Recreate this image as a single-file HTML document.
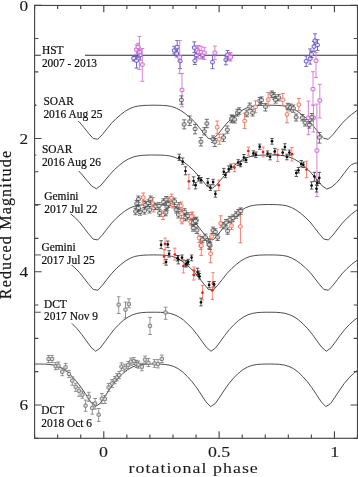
<!DOCTYPE html><html><head><meta charset="utf-8"><style>html,body{margin:0;padding:0;background:#fff;width:358px;height:477px;overflow:hidden}svg{display:block;will-change:transform}</style></head><body>
<svg width="358" height="477" viewBox="0 0 358 477">
<g fill="none" stroke="#3a3a3a" stroke-width="0.9">
<path d="M34.6,55.25 L357.5,55.25" stroke="#2e2e2e" stroke-width="1.1"/>
<path d="M34.60,105.25 L37.79,105.21 L42.41,105.26 L47.02,105.39 L51.63,105.72 L56.25,106.49 L60.86,108.10 L65.47,110.50 L70.08,113.69 L74.70,117.57 L79.31,121.93 L83.92,127.56 L88.54,133.27 L93.15,138.47 L97.76,139.24 L102.38,134.50 L106.99,128.77 L111.60,123.14 L116.22,118.50 L120.83,114.49 L125.44,111.09 L130.05,108.48 L134.67,106.73 L139.28,105.88 L143.89,105.45 L148.51,105.27 L153.12,105.21 L157.73,105.26 L162.34,105.39 L166.96,105.72 L171.57,106.49 L176.18,108.10 L180.80,110.50 L185.41,113.69 L190.02,117.57 L194.64,121.93 L199.25,127.56 L203.86,133.28 L208.47,138.47 L213.09,139.24 L217.70,134.50 L222.31,128.76 L226.93,123.13 L231.54,118.50 L236.15,114.49 L240.77,111.09 L245.38,108.48 L249.99,106.73 L254.61,105.88 L259.22,105.45 L263.83,105.27 L268.44,105.21 L273.06,105.26 L277.67,105.39 L282.28,105.72 L286.90,106.49 L291.51,108.11 L296.12,110.51 L300.74,113.69 L305.35,117.57 L309.96,121.94 L314.57,127.57 L319.19,133.28 L323.80,138.48 L328.41,139.24 L333.03,134.49 L337.64,128.76 L342.25,123.13 L346.87,118.49 L351.48,114.48 L356.09,111.09 L357.50,110.25"/>
<path d="M34.60,155.05 L36.28,155.03 L40.89,155.04 L45.51,155.10 L50.12,155.37 L54.73,156.01 L59.35,157.28 L63.96,159.30 L68.57,162.09 L73.18,165.75 L77.80,169.94 L82.41,175.04 L87.02,180.59 L91.64,185.95 L96.25,188.79 L100.86,185.34 L105.48,179.86 L110.09,174.33 L114.70,169.38 L119.31,165.28 L123.93,161.63 L128.54,158.95 L133.15,157.06 L137.77,155.91 L142.38,155.34 L146.99,155.09 L151.61,155.03 L156.22,155.04 L160.83,155.10 L165.44,155.37 L170.06,156.01 L174.67,157.28 L179.28,159.30 L183.90,162.09 L188.51,165.75 L193.12,169.94 L197.74,175.04 L202.35,180.59 L206.96,185.95 L211.57,188.79 L216.19,185.33 L220.80,179.86 L225.41,174.32 L230.03,169.38 L234.64,165.27 L239.25,161.63 L243.87,158.95 L248.48,157.06 L253.09,155.91 L257.70,155.34 L262.32,155.09 L266.93,155.03 L271.54,155.04 L276.16,155.10 L280.77,155.37 L285.38,156.01 L290.00,157.28 L294.61,159.30 L299.22,162.10 L303.83,165.76 L308.45,169.94 L313.06,175.05 L317.67,180.60 L322.29,185.96 L326.90,189.10 L331.40,187.20 L335.90,183.50 L340.30,178.50 L344.80,172.40 L348.20,167.90 L351.50,164.60 L354.90,163.20 L357.70,162.90"/>
<path d="M34.60,204.55 L37.79,204.51 L42.41,204.56 L47.02,204.70 L51.63,205.04 L56.25,205.84 L60.86,207.52 L65.47,210.02 L70.08,213.33 L74.70,217.37 L79.31,221.90 L83.92,227.76 L88.54,233.71 L93.15,239.11 L97.76,239.92 L102.38,234.98 L106.99,229.02 L111.60,223.16 L116.22,218.34 L120.83,214.16 L125.44,210.63 L130.05,207.91 L134.67,206.10 L139.28,205.21 L143.89,204.76 L148.51,204.58 L153.12,204.51 L157.73,204.56 L162.34,204.70 L166.96,205.04 L171.57,205.84 L176.18,207.52 L180.80,210.02 L185.41,213.33 L190.02,217.37 L194.64,221.91 L199.25,227.77 L203.86,233.71 L208.47,239.12 L213.09,239.91 L217.70,234.98 L222.31,229.02 L226.93,223.16 L231.54,218.33 L236.15,214.16 L240.77,210.63 L245.38,207.91 L249.99,206.09 L254.61,205.21 L259.22,204.76 L263.83,204.58 L268.44,204.51 L273.06,204.56 L277.67,204.70 L282.28,205.04 L286.90,205.84 L291.51,207.52 L296.12,210.02 L300.74,213.34 L305.35,217.37 L309.96,221.91 L314.57,227.77 L319.19,233.72 L323.80,239.12 L328.41,239.91 L333.03,234.98 L337.64,229.01 L342.25,223.15 L346.87,218.33 L351.48,214.16 L356.09,210.62 L357.50,209.75"/>
<path d="M34.60,254.95 L37.89,254.91 L42.51,254.96 L47.12,255.10 L51.73,255.45 L56.35,256.25 L60.96,257.95 L65.57,260.46 L70.18,263.79 L74.80,267.83 L79.41,272.38 L84.02,278.22 L88.64,284.15 L93.25,289.53 L97.86,290.18 L102.48,285.17 L107.09,279.22 L111.70,273.38 L116.31,268.60 L120.93,264.45 L125.54,260.95 L130.15,258.26 L134.77,256.45 L139.38,255.59 L143.99,255.15 L148.61,254.97 L153.22,254.91 L157.83,254.96 L162.44,255.10 L167.06,255.45 L171.67,256.25 L176.28,257.95 L180.90,260.46 L185.51,263.79 L190.12,267.83 L194.74,272.39 L199.35,278.23 L203.96,284.16 L208.57,289.53 L213.19,290.18 L217.80,285.17 L222.41,279.22 L227.03,273.38 L231.64,268.60 L236.25,264.45 L240.87,260.95 L245.48,258.26 L250.09,256.45 L254.70,255.59 L259.32,255.15 L263.93,254.97 L268.54,254.91 L273.16,254.96 L277.77,255.10 L282.38,255.45 L287.00,256.25 L291.61,257.95 L296.22,260.47 L300.83,263.80 L305.45,267.84 L310.06,272.39 L314.67,278.23 L319.29,284.16 L323.90,289.53 L328.51,290.18 L333.13,285.16 L337.74,279.21 L342.35,273.37 L346.96,268.59 L351.58,264.45 L356.19,260.94 L357.50,260.14"/>
<path d="M34.60,312.26 L35.68,312.24 L40.29,312.23 L44.91,312.31 L49.52,312.59 L54.13,313.25 L58.75,314.58 L63.36,316.77 L67.97,319.87 L72.58,324.08 L77.20,328.83 L81.81,334.55 L86.42,340.95 L91.04,347.28 L95.65,351.28 L100.26,347.99 L104.88,341.79 L109.49,335.38 L114.10,329.47 L118.72,324.63 L123.33,320.40 L127.94,317.17 L132.55,314.83 L137.17,313.37 L141.78,312.63 L146.39,312.32 L151.01,312.24 L155.62,312.23 L160.23,312.31 L164.84,312.59 L169.46,313.25 L174.07,314.58 L178.68,316.77 L183.30,319.87 L187.91,324.08 L192.52,328.84 L197.14,334.55 L201.75,340.95 L206.36,347.28 L210.97,351.28 L215.59,347.99 L220.20,341.79 L224.81,335.37 L229.43,329.47 L234.04,324.63 L238.65,320.40 L243.27,317.17 L247.88,314.83 L252.49,313.37 L257.11,312.63 L261.72,312.32 L266.33,312.24 L270.94,312.23 L275.56,312.31 L280.17,312.59 L284.78,313.26 L289.40,314.58 L294.01,316.77 L298.62,319.87 L303.24,324.09 L307.85,328.84 L312.46,334.56 L317.07,340.96 L321.69,347.28 L326.30,351.28 L330.91,347.98 L335.53,341.78 L340.14,335.37 L344.75,329.46 L349.37,324.63 L353.98,320.40 L357.50,317.90"/>
<path d="M34.60,364.06 L35.28,364.05 L39.89,364.03 L44.51,364.11 L49.12,364.39 L53.73,365.07 L58.35,366.41 L62.96,368.71 L67.57,372.10 L72.18,376.60 L76.80,381.74 L81.41,387.85 L86.02,394.85 L90.64,401.87 L95.25,406.59 L99.86,403.69 L104.48,397.00 L109.09,389.97 L113.70,383.37 L118.31,378.01 L122.93,373.38 L127.54,369.74 L132.15,367.07 L136.77,365.36 L141.38,364.50 L145.99,364.15 L150.61,364.05 L155.22,364.03 L159.83,364.11 L164.44,364.39 L169.06,365.07 L173.67,366.42 L178.28,368.71 L182.90,372.10 L187.51,376.60 L192.12,381.74 L196.74,387.86 L201.35,394.85 L205.96,401.87 L210.57,406.59 L215.19,403.68 L219.80,396.99 L224.41,389.96 L229.03,383.36 L233.64,378.00 L238.25,373.37 L242.87,369.73 L247.48,367.07 L252.09,365.36 L256.70,364.50 L261.32,364.15 L265.93,364.05 L270.54,364.03 L275.16,364.11 L279.77,364.39 L284.38,365.07 L289.00,366.42 L293.61,368.71 L298.22,372.10 L302.83,376.61 L307.45,381.74 L312.06,387.86 L316.67,394.86 L321.29,401.88 L325.90,406.59 L330.51,403.68 L335.13,396.99 L339.74,389.96 L344.35,383.36 L348.96,378.00 L353.58,373.37 L357.50,370.24"/>
</g>
<path d="M133.7,56.0V61.1M131.7,56.0h4.0M131.7,61.1h4.0" stroke="#6a58c2" stroke-width="0.9" fill="none"/><rect x="131.8" y="56.6" width="3.8" height="3.3" rx="1.0" fill="#e8e4f6" stroke="#5c48ba" stroke-width="0.9"/>
<path d="M136.5,56.5V68.1M134.5,56.5h4.0M134.5,68.1h4.0" stroke="#6a58c2" stroke-width="0.9" fill="none"/><rect x="134.6" y="59.0" width="3.8" height="3.3" rx="1.0" fill="#e8e4f6" stroke="#5c48ba" stroke-width="0.9"/>
<path d="M138.8,47.3V57.7M136.8,47.3h4.0M136.8,57.7h4.0" stroke="#6a58c2" stroke-width="0.9" fill="none"/><rect x="136.9" y="51.5" width="3.8" height="3.3" rx="1.0" fill="#e8e4f6" stroke="#5c48ba" stroke-width="0.9"/>
<path d="M140.2,50.0V60.0M138.2,50.0h4.0M138.2,60.0h4.0" stroke="#6a58c2" stroke-width="0.9" fill="none"/><rect x="138.3" y="53.4" width="3.8" height="3.3" rx="1.0" fill="#e8e4f6" stroke="#5c48ba" stroke-width="0.9"/>
<path d="M136.5,45.0V54.0M134.5,45.0h4.0M134.5,54.0h4.0" stroke="#d076d4" stroke-width="0.9" fill="none"/><rect x="134.6" y="48.0" width="3.8" height="3.3" rx="0.5" fill="#f6e4f6" stroke="#c962ce" stroke-width="0.9"/>
<path d="M139.4,36.3V69.5M137.4,36.3h4.0M137.4,69.5h4.0" stroke="#d076d4" stroke-width="0.9" fill="none"/><rect x="137.5" y="50.4" width="3.8" height="3.3" rx="0.5" fill="#f6e4f6" stroke="#c962ce" stroke-width="0.9"/>
<path d="M142.3,48.5V81.3M140.3,48.5h4.0M140.3,81.3h4.0" stroke="#d076d4" stroke-width="0.9" fill="none"/><rect x="140.4" y="62.9" width="3.8" height="3.3" rx="0.5" fill="#f6e4f6" stroke="#c962ce" stroke-width="0.9"/>
<path d="M138.0,43.3V52.0M136.0,43.3h4.0M136.0,52.0h4.0" stroke="#d076d4" stroke-width="0.9" fill="none"/><rect x="136.1" y="45.4" width="3.8" height="3.3" rx="0.5" fill="#f6e4f6" stroke="#c962ce" stroke-width="0.9"/>
<path d="M174.2,46.3V53.9M172.2,46.3h4.0M172.2,53.9h4.0" stroke="#6a58c2" stroke-width="0.9" fill="none"/><rect x="172.3" y="48.9" width="3.8" height="3.3" rx="1.0" fill="#e8e4f6" stroke="#5c48ba" stroke-width="0.9"/>
<path d="M177.2,40.5V53.0M175.2,40.5h4.0M175.2,53.0h4.0" stroke="#6a58c2" stroke-width="0.9" fill="none"/><rect x="175.3" y="45.4" width="3.8" height="3.3" rx="1.0" fill="#e8e4f6" stroke="#5c48ba" stroke-width="0.9"/>
<path d="M176.7,50.0V57.0M174.7,50.0h4.0M174.7,57.0h4.0" stroke="#6a58c2" stroke-width="0.9" fill="none"/><rect x="174.8" y="51.9" width="3.8" height="3.3" rx="1.0" fill="#e8e4f6" stroke="#5c48ba" stroke-width="0.9"/>
<path d="M180.1,56.4V68.6M178.1,56.4h4.0M178.1,68.6h4.0" stroke="#6a58c2" stroke-width="0.9" fill="none"/><rect x="178.2" y="59.4" width="3.8" height="3.3" rx="1.0" fill="#e8e4f6" stroke="#5c48ba" stroke-width="0.9"/>
<path d="M179.7,40.5V73.6M177.7,40.5h4.0M177.7,73.6h4.0" stroke="#d076d4" stroke-width="0.9" fill="none"/><rect x="177.8" y="55.6" width="3.8" height="3.3" rx="0.5" fill="#f6e4f6" stroke="#c962ce" stroke-width="0.9"/>
<path d="M182.0,73.6V106.8M180.0,73.6h4.0M180.0,106.8h4.0" stroke="#d076d4" stroke-width="0.9" fill="none"/><rect x="180.1" y="88.3" width="3.8" height="3.3" rx="0.5" fill="#f6e4f6" stroke="#c962ce" stroke-width="0.9"/>
<path d="M194.3,41.9V52.6M192.3,41.9h4.0M192.3,52.6h4.0" stroke="#6a58c2" stroke-width="0.9" fill="none"/><rect x="192.4" y="46.0" width="3.8" height="3.3" rx="1.0" fill="#e8e4f6" stroke="#5c48ba" stroke-width="0.9"/>
<path d="M194.9,55.7V64.5M192.9,55.7h4.0M192.9,64.5h4.0" stroke="#6a58c2" stroke-width="0.9" fill="none"/><rect x="193.0" y="59.1" width="3.8" height="3.3" rx="1.0" fill="#e8e4f6" stroke="#5c48ba" stroke-width="0.9"/>
<path d="M202.4,52.5V58.2M200.4,52.5h4.0M200.4,58.2h4.0" stroke="#6a58c2" stroke-width="0.9" fill="none"/><rect x="200.5" y="53.5" width="3.8" height="3.3" rx="1.0" fill="#e8e4f6" stroke="#5c48ba" stroke-width="0.9"/>
<path d="M196.5,52.0V58.0M194.5,52.0h4.0M194.5,58.0h4.0" stroke="#6a58c2" stroke-width="0.9" fill="none"/><rect x="194.6" y="53.5" width="3.8" height="3.3" rx="1.0" fill="#e8e4f6" stroke="#5c48ba" stroke-width="0.9"/>
<path d="M197.4,45.7V54.5M195.4,45.7h4.0M195.4,54.5h4.0" stroke="#d076d4" stroke-width="0.9" fill="none"/><rect x="195.5" y="48.5" width="3.8" height="3.3" rx="0.5" fill="#f6e4f6" stroke="#c962ce" stroke-width="0.9"/>
<path d="M198.7,45.7V58.9M196.7,45.7h4.0M196.7,58.9h4.0" stroke="#d076d4" stroke-width="0.9" fill="none"/><rect x="196.8" y="50.4" width="3.8" height="3.3" rx="0.5" fill="#f6e4f6" stroke="#c962ce" stroke-width="0.9"/>
<path d="M201.2,46.3V58.9M199.2,46.3h4.0M199.2,58.9h4.0" stroke="#d076d4" stroke-width="0.9" fill="none"/><rect x="199.3" y="50.4" width="3.8" height="3.3" rx="0.5" fill="#f6e4f6" stroke="#c962ce" stroke-width="0.9"/>
<path d="M204.3,47.6V59.5M202.3,47.6h4.0M202.3,59.5h4.0" stroke="#d076d4" stroke-width="0.9" fill="none"/><rect x="202.4" y="51.0" width="3.8" height="3.3" rx="0.5" fill="#f6e4f6" stroke="#c962ce" stroke-width="0.9"/>
<path d="M212.5,55.5V68.7M210.5,55.5h4.0M210.5,68.7h4.0" stroke="#6a58c2" stroke-width="0.9" fill="none"/><rect x="210.6" y="60.5" width="3.8" height="3.3" rx="1.0" fill="#e8e4f6" stroke="#5c48ba" stroke-width="0.9"/>
<path d="M214.9,46.1V59.6M212.9,46.1h4.0M212.9,59.6h4.0" stroke="#d076d4" stroke-width="0.9" fill="none"/><rect x="213.0" y="51.1" width="3.8" height="3.3" rx="0.5" fill="#f6e4f6" stroke="#c962ce" stroke-width="0.9"/>
<path d="M225.9,56.0V64.8M223.9,56.0h4.0M223.9,64.8h4.0" stroke="#6a58c2" stroke-width="0.9" fill="none"/><rect x="224.0" y="58.1" width="3.8" height="3.3" rx="1.0" fill="#e8e4f6" stroke="#5c48ba" stroke-width="0.9"/>
<path d="M227.6,50.5V60.1M225.6,50.5h4.0M225.6,60.1h4.0" stroke="#6a58c2" stroke-width="0.9" fill="none"/><rect x="225.7" y="53.1" width="3.8" height="3.3" rx="1.0" fill="#e8e4f6" stroke="#5c48ba" stroke-width="0.9"/>
<path d="M230.1,52.6V60.1M228.1,52.6h4.0M228.1,60.1h4.0" stroke="#d076d4" stroke-width="0.9" fill="none"/><rect x="228.2" y="54.4" width="3.8" height="3.3" rx="0.5" fill="#f6e4f6" stroke="#c962ce" stroke-width="0.9"/>
<path d="M230.5,53.0V61.0M228.5,53.0h4.0M228.5,61.0h4.0" stroke="#d076d4" stroke-width="0.9" fill="none"/><rect x="228.6" y="55.6" width="3.8" height="3.3" rx="0.5" fill="#f6e4f6" stroke="#c962ce" stroke-width="0.9"/>
<path d="M306.2,55.9V66.5M304.2,55.9h4.0M304.2,66.5h4.0" stroke="#6a58c2" stroke-width="0.9" fill="none"/><rect x="304.3" y="59.6" width="3.8" height="3.3" rx="1.0" fill="#e8e4f6" stroke="#5c48ba" stroke-width="0.9"/>
<path d="M310.1,48.9V64.1M308.1,48.9h4.0M308.1,64.1h4.0" stroke="#6a58c2" stroke-width="0.9" fill="none"/><rect x="308.2" y="57.0" width="3.8" height="3.3" rx="1.0" fill="#e8e4f6" stroke="#5c48ba" stroke-width="0.9"/>
<path d="M311.5,51.0V57.5M309.5,51.0h4.0M309.5,57.5h4.0" stroke="#6a58c2" stroke-width="0.9" fill="none"/><rect x="309.6" y="52.6" width="3.8" height="3.3" rx="1.0" fill="#e8e4f6" stroke="#5c48ba" stroke-width="0.9"/>
<path d="M314.0,41.6V51.4M312.0,41.6h4.0M312.0,51.4h4.0" stroke="#6a58c2" stroke-width="0.9" fill="none"/><rect x="312.1" y="44.9" width="3.8" height="3.3" rx="1.0" fill="#e8e4f6" stroke="#5c48ba" stroke-width="0.9"/>
<path d="M315.0,33.8V44.6M313.0,33.8h4.0M313.0,44.6h4.0" stroke="#6a58c2" stroke-width="0.9" fill="none"/><rect x="313.1" y="39.0" width="3.8" height="3.3" rx="1.0" fill="#e8e4f6" stroke="#5c48ba" stroke-width="0.9"/>
<path d="M317.5,39.7V50.4M315.5,39.7h4.0M315.5,50.4h4.0" stroke="#6a58c2" stroke-width="0.9" fill="none"/><rect x="315.6" y="43.4" width="3.8" height="3.3" rx="1.0" fill="#e8e4f6" stroke="#5c48ba" stroke-width="0.9"/>
<path d="M316.0,52.4V77.4M314.0,52.4h4.0M314.0,77.4h4.0" stroke="#d076d4" stroke-width="0.9" fill="none"/><rect x="314.1" y="59.1" width="3.8" height="3.3" rx="0.5" fill="#f6e4f6" stroke="#c962ce" stroke-width="0.9"/>
<path d="M313.0,71.7V105.0M311.0,71.7h4.0M311.0,105.0h4.0" stroke="#d076d4" stroke-width="0.9" fill="none"/><rect x="311.1" y="87.5" width="3.8" height="3.3" rx="0.5" fill="#f6e4f6" stroke="#c962ce" stroke-width="0.9"/>
<path d="M313.4,105.3V132.1M311.4,105.3h4.0M311.4,132.1h4.0" stroke="#d076d4" stroke-width="0.9" fill="none"/><rect x="311.5" y="116.3" width="3.8" height="3.3" rx="0.5" fill="#f6e4f6" stroke="#c962ce" stroke-width="0.9"/>
<path d="M319.8,84.3V117.9M317.8,84.3h4.0M317.8,117.9h4.0" stroke="#d076d4" stroke-width="0.9" fill="none"/><rect x="317.9" y="98.8" width="3.8" height="3.3" rx="0.5" fill="#f6e4f6" stroke="#c962ce" stroke-width="0.9"/>
<path d="M308.4,101.1V134.7M306.4,101.1h4.0M306.4,134.7h4.0" stroke="#d076d4" stroke-width="0.9" fill="none"/><rect x="306.5" y="116.2" width="3.8" height="3.3" rx="0.5" fill="#f6e4f6" stroke="#c962ce" stroke-width="0.9"/>
<path d="M316.9,104.0V196.6M314.9,104.0h4.0M314.9,196.6h4.0" stroke="#d076d4" stroke-width="0.9" fill="none"/><rect x="315.0" y="148.9" width="3.8" height="3.3" rx="0.5" fill="#f6e4f6" stroke="#c962ce" stroke-width="0.9"/>
<path d="M181.4,95.9V104.2M179.3,95.9h4.2M179.3,104.2h4.2" stroke="#4e4e4e" stroke-width="0.8" fill="none"/><rect x="179.5" y="98.5" width="3.9" height="3.1" rx="0.8" fill="#dadada" stroke="#505050" stroke-width="0.8"/>
<path d="M184.2,119.8V128.9M182.1,119.8h4.2M182.1,128.9h4.2" stroke="#4e4e4e" stroke-width="0.8" fill="none"/><rect x="182.2" y="122.9" width="3.9" height="3.1" rx="0.8" fill="#dadada" stroke="#505050" stroke-width="0.8"/>
<path d="M189.7,116.0V125.5M187.6,116.0h4.2M187.6,125.5h4.2" stroke="#4e4e4e" stroke-width="0.8" fill="none"/><rect x="187.8" y="120.0" width="3.9" height="3.1" rx="0.8" fill="#dadada" stroke="#505050" stroke-width="0.8"/>
<path d="M195.1,124.4V133.9M193.0,124.4h4.2M193.0,133.9h4.2" stroke="#4e4e4e" stroke-width="0.8" fill="none"/><rect x="193.2" y="127.4" width="3.9" height="3.1" rx="0.8" fill="#dadada" stroke="#505050" stroke-width="0.8"/>
<path d="M204.3,127.7V134.9M202.2,127.7h4.2M202.2,134.9h4.2" stroke="#4e4e4e" stroke-width="0.8" fill="none"/><rect x="202.4" y="130.0" width="3.9" height="3.1" rx="0.8" fill="#dadada" stroke="#505050" stroke-width="0.8"/>
<path d="M206.8,119.3V127.7M204.7,119.3h4.2M204.7,127.7h4.2" stroke="#4e4e4e" stroke-width="0.8" fill="none"/><rect x="204.9" y="122.0" width="3.9" height="3.1" rx="0.8" fill="#dadada" stroke="#505050" stroke-width="0.8"/>
<path d="M217.2,121.0V133.9M215.3,121.0h3.8M215.3,133.9h3.8" stroke="#ea6a56" stroke-width="0.85" fill="none"/><rect x="215.4" y="125.5" width="3.6" height="3.4" rx="1.0" fill="#fde6e0" stroke="#e6604c" stroke-width="0.8"/>
<path d="M227.3,126.0V133.2M225.2,126.0h4.2M225.2,133.2h4.2" stroke="#4e4e4e" stroke-width="0.8" fill="none"/><rect x="225.4" y="128.3" width="3.9" height="3.1" rx="0.8" fill="#dadada" stroke="#505050" stroke-width="0.8"/>
<path d="M232.0,115.1V121.8M229.9,115.1h4.2M229.9,121.8h4.2" stroke="#4e4e4e" stroke-width="0.8" fill="none"/><rect x="230.1" y="117.0" width="3.9" height="3.1" rx="0.8" fill="#dadada" stroke="#505050" stroke-width="0.8"/>
<path d="M200.9,137.6V146.0M198.8,137.6h4.2M198.8,146.0h4.2" stroke="#4e4e4e" stroke-width="0.8" fill="none"/><rect x="199.0" y="140.2" width="3.9" height="3.1" rx="0.8" fill="#dadada" stroke="#505050" stroke-width="0.8"/>
<path d="M213.1,135.9V142.6M211.0,135.9h4.2M211.0,142.6h4.2" stroke="#4e4e4e" stroke-width="0.8" fill="none"/><rect x="211.2" y="137.6" width="3.9" height="3.1" rx="0.8" fill="#dadada" stroke="#505050" stroke-width="0.8"/>
<path d="M214.8,138.6V146.5M212.7,138.6h4.2M212.7,146.5h4.2" stroke="#4e4e4e" stroke-width="0.8" fill="none"/><rect x="212.9" y="140.2" width="3.9" height="3.1" rx="0.8" fill="#dadada" stroke="#505050" stroke-width="0.8"/>
<path d="M219.3,134.2V144.3M217.4,134.2h3.8M217.4,144.3h3.8" stroke="#ea6a56" stroke-width="0.85" fill="none"/><rect x="217.5" y="137.5" width="3.6" height="3.4" rx="1.0" fill="#fde6e0" stroke="#e6604c" stroke-width="0.8"/>
<path d="M223.5,134.2V141.4M221.4,134.2h4.2M221.4,141.4h4.2" stroke="#4e4e4e" stroke-width="0.8" fill="none"/><rect x="221.6" y="136.0" width="3.9" height="3.1" rx="0.8" fill="#dadada" stroke="#505050" stroke-width="0.8"/>
<path d="M231.7,115.2V122.7M229.6,115.2h4.2M229.6,122.7h4.2" stroke="#4e4e4e" stroke-width="0.8" fill="none"/><rect x="229.8" y="117.0" width="3.9" height="3.1" rx="0.8" fill="#dadada" stroke="#505050" stroke-width="0.8"/>
<path d="M234.7,116.0V123.0M232.6,116.0h4.2M232.6,123.0h4.2" stroke="#4e4e4e" stroke-width="0.8" fill="none"/><rect x="232.8" y="117.9" width="3.9" height="3.1" rx="0.8" fill="#dadada" stroke="#505050" stroke-width="0.8"/>
<path d="M237.5,109.3V116.0M235.4,109.3h4.2M235.4,116.0h4.2" stroke="#4e4e4e" stroke-width="0.8" fill="none"/><rect x="235.6" y="111.2" width="3.9" height="3.1" rx="0.8" fill="#dadada" stroke="#505050" stroke-width="0.8"/>
<path d="M239.2,107.8V114.2M237.1,107.8h4.2M237.1,114.2h4.2" stroke="#4e4e4e" stroke-width="0.8" fill="none"/><rect x="237.2" y="109.5" width="3.9" height="3.1" rx="0.8" fill="#dadada" stroke="#505050" stroke-width="0.8"/>
<path d="M244.6,113.3V128.6M242.7,113.3h3.8M242.7,128.6h3.8" stroke="#ea6a56" stroke-width="0.85" fill="none"/><rect x="242.8" y="119.3" width="3.6" height="3.4" rx="1.0" fill="#fde6e0" stroke="#e6604c" stroke-width="0.8"/>
<path d="M246.8,110.1V116.7M244.7,110.1h4.2M244.7,116.7h4.2" stroke="#4e4e4e" stroke-width="0.8" fill="none"/><rect x="244.9" y="112.0" width="3.9" height="3.1" rx="0.8" fill="#dadada" stroke="#505050" stroke-width="0.8"/>
<path d="M249.8,103.1V109.7M247.7,103.1h4.2M247.7,109.7h4.2" stroke="#4e4e4e" stroke-width="0.8" fill="none"/><rect x="247.9" y="105.0" width="3.9" height="3.1" rx="0.8" fill="#dadada" stroke="#505050" stroke-width="0.8"/>
<path d="M252.6,109.3V116.0M250.5,109.3h4.2M250.5,116.0h4.2" stroke="#4e4e4e" stroke-width="0.8" fill="none"/><rect x="250.7" y="111.2" width="3.9" height="3.1" rx="0.8" fill="#dadada" stroke="#505050" stroke-width="0.8"/>
<path d="M255.5,100.9V112.7M253.6,100.9h3.8M253.6,112.7h3.8" stroke="#ea6a56" stroke-width="0.85" fill="none"/><rect x="253.7" y="105.1" width="3.6" height="3.4" rx="1.0" fill="#fde6e0" stroke="#e6604c" stroke-width="0.8"/>
<path d="M259.8,97.6V104.3M257.7,97.6h4.2M257.7,104.3h4.2" stroke="#4e4e4e" stroke-width="0.8" fill="none"/><rect x="257.9" y="99.4" width="3.9" height="3.1" rx="0.8" fill="#dadada" stroke="#505050" stroke-width="0.8"/>
<path d="M261.5,96.9V103.5M259.4,96.9h4.2M259.4,103.5h4.2" stroke="#4e4e4e" stroke-width="0.8" fill="none"/><rect x="259.6" y="98.5" width="3.9" height="3.1" rx="0.8" fill="#dadada" stroke="#505050" stroke-width="0.8"/>
<path d="M265.5,103.4V111.0M263.4,103.4h4.2M263.4,111.0h4.2" stroke="#4e4e4e" stroke-width="0.8" fill="none"/><rect x="263.6" y="105.2" width="3.9" height="3.1" rx="0.8" fill="#dadada" stroke="#505050" stroke-width="0.8"/>
<path d="M268.2,92.5V106.0M266.3,92.5h3.8M266.3,106.0h3.8" stroke="#ea6a56" stroke-width="0.85" fill="none"/><rect x="266.4" y="98.0" width="3.6" height="3.4" rx="1.0" fill="#fde6e0" stroke="#e6604c" stroke-width="0.8"/>
<path d="M271.9,91.0V97.4M269.8,91.0h4.2M269.8,97.4h4.2" stroke="#4e4e4e" stroke-width="0.8" fill="none"/><rect x="269.9" y="92.7" width="3.9" height="3.1" rx="0.8" fill="#dadada" stroke="#505050" stroke-width="0.8"/>
<path d="M273.9,92.7V99.1M271.8,92.7h4.2M271.8,99.1h4.2" stroke="#4e4e4e" stroke-width="0.8" fill="none"/><rect x="271.9" y="94.4" width="3.9" height="3.1" rx="0.8" fill="#dadada" stroke="#505050" stroke-width="0.8"/>
<path d="M275.6,96.5V103.1M273.5,96.5h4.2M273.5,103.1h4.2" stroke="#4e4e4e" stroke-width="0.8" fill="none"/><rect x="273.7" y="98.2" width="3.9" height="3.1" rx="0.8" fill="#dadada" stroke="#505050" stroke-width="0.8"/>
<path d="M278.6,94.4V100.8M276.5,94.4h4.2M276.5,100.8h4.2" stroke="#4e4e4e" stroke-width="0.8" fill="none"/><rect x="276.7" y="96.0" width="3.9" height="3.1" rx="0.8" fill="#dadada" stroke="#505050" stroke-width="0.8"/>
<path d="M282.8,93.5V105.4M280.9,93.5h3.8M280.9,105.4h3.8" stroke="#ea6a56" stroke-width="0.85" fill="none"/><rect x="281.0" y="98.1" width="3.6" height="3.4" rx="1.0" fill="#fde6e0" stroke="#e6604c" stroke-width="0.8"/>
<path d="M287.0,108.2V122.8M285.1,108.2h3.8M285.1,122.8h3.8" stroke="#ea6a56" stroke-width="0.85" fill="none"/><rect x="285.2" y="112.7" width="3.6" height="3.4" rx="1.0" fill="#fde6e0" stroke="#e6604c" stroke-width="0.8"/>
<path d="M287.8,103.3V109.7M285.7,103.3h4.2M285.7,109.7h4.2" stroke="#4e4e4e" stroke-width="0.8" fill="none"/><rect x="285.9" y="105.0" width="3.9" height="3.1" rx="0.8" fill="#dadada" stroke="#505050" stroke-width="0.8"/>
<path d="M290.5,104.0V111.0M288.4,104.0h4.2M288.4,111.0h4.2" stroke="#4e4e4e" stroke-width="0.8" fill="none"/><rect x="288.6" y="106.0" width="3.9" height="3.1" rx="0.8" fill="#dadada" stroke="#505050" stroke-width="0.8"/>
<path d="M293.3,105.0V112.3M291.2,105.0h4.2M291.2,112.3h4.2" stroke="#4e4e4e" stroke-width="0.8" fill="none"/><rect x="291.4" y="106.7" width="3.9" height="3.1" rx="0.8" fill="#dadada" stroke="#505050" stroke-width="0.8"/>
<path d="M298.9,98.4V110.7M297.0,98.4h3.8M297.0,110.7h3.8" stroke="#ea6a56" stroke-width="0.85" fill="none"/><rect x="297.1" y="103.0" width="3.6" height="3.4" rx="1.0" fill="#fde6e0" stroke="#e6604c" stroke-width="0.8"/>
<path d="M296.1,114.0V121.0M294.0,114.0h4.2M294.0,121.0h4.2" stroke="#4e4e4e" stroke-width="0.8" fill="none"/><rect x="294.2" y="115.7" width="3.9" height="3.1" rx="0.8" fill="#dadada" stroke="#505050" stroke-width="0.8"/>
<path d="M302.3,114.5V120.9M300.2,114.5h4.2M300.2,120.9h4.2" stroke="#4e4e4e" stroke-width="0.8" fill="none"/><rect x="300.4" y="116.2" width="3.9" height="3.1" rx="0.8" fill="#dadada" stroke="#505050" stroke-width="0.8"/>
<path d="M305.1,119.6V126.0M303.0,119.6h4.2M303.0,126.0h4.2" stroke="#4e4e4e" stroke-width="0.8" fill="none"/><rect x="303.2" y="121.2" width="3.9" height="3.1" rx="0.8" fill="#dadada" stroke="#505050" stroke-width="0.8"/>
<path d="M309.3,121.7V128.1M307.2,121.7h4.2M307.2,128.1h4.2" stroke="#4e4e4e" stroke-width="0.8" fill="none"/><rect x="307.4" y="123.4" width="3.9" height="3.1" rx="0.8" fill="#dadada" stroke="#505050" stroke-width="0.8"/>
<path d="M311.8,113.5V121.0M309.7,113.5h4.2M309.7,121.0h4.2" stroke="#4e4e4e" stroke-width="0.8" fill="none"/><rect x="309.9" y="115.7" width="3.9" height="3.1" rx="0.8" fill="#dadada" stroke="#505050" stroke-width="0.8"/>
<path d="M319.4,132.6V143.1M317.3,132.6h4.2M317.3,143.1h4.2" stroke="#4e4e4e" stroke-width="0.8" fill="none"/><rect x="317.4" y="135.9" width="3.9" height="3.1" rx="0.8" fill="#dadada" stroke="#505050" stroke-width="0.8"/>
<path d="M179.3,154.2V160.4M177.6,154.2h3.4M177.6,160.4h3.4" stroke="#333" stroke-width="0.8" fill="none"/><circle cx="179.3" cy="157.5" r="1.35" fill="#0c0c0c"/>
<path d="M182.7,158.0V164.3M181.0,158.0h3.4M181.0,164.3h3.4" stroke="#333" stroke-width="0.8" fill="none"/><circle cx="182.7" cy="161.7" r="1.35" fill="#0c0c0c"/>
<path d="M185.5,166.8V174.8M183.8,166.8h3.4M183.8,174.8h3.4" stroke="#333" stroke-width="0.8" fill="none"/><circle cx="185.5" cy="171.0" r="1.35" fill="#0c0c0c"/>
<path d="M188.9,174.3V188.9M187.2,174.3h3.4M187.2,188.9h3.4" stroke="#f06050" stroke-width="0.75" fill="none"/><circle cx="188.9" cy="181.3" r="1.35" fill="#e42010"/>
<path d="M193.6,176.8V185.2M191.9,176.8h3.4M191.9,185.2h3.4" stroke="#333" stroke-width="0.8" fill="none"/><circle cx="193.6" cy="181.0" r="1.35" fill="#0c0c0c"/>
<path d="M195.6,182.6V188.9M193.9,182.6h3.4M193.9,188.9h3.4" stroke="#333" stroke-width="0.8" fill="none"/><circle cx="195.6" cy="185.2" r="1.35" fill="#0c0c0c"/>
<path d="M198.6,175.5V181.1M196.9,175.5h3.4M196.9,181.1h3.4" stroke="#333" stroke-width="0.8" fill="none"/><circle cx="198.6" cy="178.5" r="1.35" fill="#0c0c0c"/>
<path d="M201.1,177.5V183.0M199.4,177.5h3.4M199.4,183.0h3.4" stroke="#333" stroke-width="0.8" fill="none"/><circle cx="201.1" cy="180.2" r="1.35" fill="#0c0c0c"/>
<path d="M207.8,178.5V186.0M206.1,178.5h3.4M206.1,186.0h3.4" stroke="#333" stroke-width="0.8" fill="none"/><circle cx="207.8" cy="182.7" r="1.35" fill="#0c0c0c"/>
<path d="M210.4,184.8V190.5M208.7,184.8h3.4M208.7,190.5h3.4" stroke="#333" stroke-width="0.8" fill="none"/><circle cx="210.4" cy="187.7" r="1.35" fill="#0c0c0c"/>
<path d="M213.1,179.3V184.8M211.4,179.3h3.4M211.4,184.8h3.4" stroke="#333" stroke-width="0.8" fill="none"/><circle cx="213.1" cy="182.1" r="1.35" fill="#0c0c0c"/>
<path d="M215.4,191.0V197.2M213.7,191.0h3.4M213.7,197.2h3.4" stroke="#333" stroke-width="0.8" fill="none"/><circle cx="215.4" cy="193.9" r="1.35" fill="#0c0c0c"/>
<path d="M218.8,180.1V190.5M217.1,180.1h3.4M217.1,190.5h3.4" stroke="#f06050" stroke-width="0.75" fill="none"/><circle cx="218.8" cy="185.2" r="1.35" fill="#e42010"/>
<path d="M223.8,168.4V174.4M222.1,168.4h3.4M222.1,174.4h3.4" stroke="#333" stroke-width="0.8" fill="none"/><circle cx="223.8" cy="171.8" r="1.35" fill="#0c0c0c"/>
<path d="M225.5,172.5V177.7M223.8,172.5h3.4M223.8,177.7h3.4" stroke="#333" stroke-width="0.8" fill="none"/><circle cx="225.5" cy="175.1" r="1.35" fill="#0c0c0c"/>
<path d="M228.8,165.9V172.0M227.1,165.9h3.4M227.1,172.0h3.4" stroke="#333" stroke-width="0.8" fill="none"/><circle cx="228.8" cy="169.2" r="1.35" fill="#0c0c0c"/>
<path d="M231.0,164.1V169.3M229.3,164.1h3.4M229.3,169.3h3.4" stroke="#333" stroke-width="0.8" fill="none"/><circle cx="231.0" cy="166.7" r="1.35" fill="#0c0c0c"/>
<path d="M234.4,163.4V171.8M232.7,163.4h3.4M232.7,171.8h3.4" stroke="#f06050" stroke-width="0.75" fill="none"/><circle cx="234.4" cy="167.6" r="1.35" fill="#e42010"/>
<path d="M238.2,159.7V165.4M236.5,159.7h3.4M236.5,165.4h3.4" stroke="#333" stroke-width="0.8" fill="none"/><circle cx="238.2" cy="162.5" r="1.35" fill="#0c0c0c"/>
<path d="M240.6,161.6V166.8M238.9,161.6h3.4M238.9,166.8h3.4" stroke="#333" stroke-width="0.8" fill="none"/><circle cx="240.6" cy="164.2" r="1.35" fill="#0c0c0c"/>
<path d="M243.9,154.5V160.9M242.2,154.5h3.4M242.2,160.9h3.4" stroke="#333" stroke-width="0.8" fill="none"/><circle cx="243.9" cy="157.5" r="1.35" fill="#0c0c0c"/>
<path d="M246.1,157.4V162.6M244.4,157.4h3.4M244.4,162.6h3.4" stroke="#333" stroke-width="0.8" fill="none"/><circle cx="246.1" cy="160.0" r="1.35" fill="#0c0c0c"/>
<path d="M248.3,147.1V155.2M246.6,147.1h3.4M246.6,155.2h3.4" stroke="#f06050" stroke-width="0.75" fill="none"/><circle cx="248.3" cy="151.0" r="1.35" fill="#e42010"/>
<path d="M253.4,150.8V156.0M251.7,150.8h3.4M251.7,156.0h3.4" stroke="#333" stroke-width="0.8" fill="none"/><circle cx="253.4" cy="153.4" r="1.35" fill="#0c0c0c"/>
<path d="M255.9,152.0V157.5M254.2,152.0h3.4M254.2,157.5h3.4" stroke="#333" stroke-width="0.8" fill="none"/><circle cx="255.9" cy="154.7" r="1.35" fill="#0c0c0c"/>
<path d="M259.7,144.1V149.3M258.0,144.1h3.4M258.0,149.3h3.4" stroke="#333" stroke-width="0.8" fill="none"/><circle cx="259.7" cy="146.7" r="1.35" fill="#0c0c0c"/>
<path d="M263.1,147.0V156.8M261.4,147.0h3.4M261.4,156.8h3.4" stroke="#f06050" stroke-width="0.75" fill="none"/><circle cx="263.1" cy="152.1" r="1.35" fill="#e42010"/>
<path d="M267.6,150.9V156.4M265.9,150.9h3.4M265.9,156.4h3.4" stroke="#333" stroke-width="0.8" fill="none"/><circle cx="267.6" cy="153.7" r="1.35" fill="#0c0c0c"/>
<path d="M270.1,153.4V159.8M268.4,153.4h3.4M268.4,159.8h3.4" stroke="#333" stroke-width="0.8" fill="none"/><circle cx="270.1" cy="156.8" r="1.35" fill="#0c0c0c"/>
<path d="M272.0,138.5V144.2M270.3,138.5h3.4M270.3,144.2h3.4" stroke="#333" stroke-width="0.8" fill="none"/><circle cx="272.0" cy="141.2" r="1.35" fill="#0c0c0c"/>
<path d="M274.8,148.4V154.2M273.1,148.4h3.4M273.1,154.2h3.4" stroke="#333" stroke-width="0.8" fill="none"/><circle cx="274.8" cy="151.4" r="1.35" fill="#0c0c0c"/>
<path d="M277.7,149.2V161.5M276.0,149.2h3.4M276.0,161.5h3.4" stroke="#f06050" stroke-width="0.75" fill="none"/><circle cx="277.7" cy="155.1" r="1.35" fill="#e42010"/>
<path d="M282.7,149.2V155.5M281.0,149.2h3.4M281.0,155.5h3.4" stroke="#333" stroke-width="0.8" fill="none"/><circle cx="282.7" cy="152.6" r="1.35" fill="#0c0c0c"/>
<path d="M284.9,143.7V150.0M283.2,143.7h3.4M283.2,150.0h3.4" stroke="#333" stroke-width="0.8" fill="none"/><circle cx="284.9" cy="147.0" r="1.35" fill="#0c0c0c"/>
<path d="M286.9,154.2V159.8M285.2,154.2h3.4M285.2,159.8h3.4" stroke="#333" stroke-width="0.8" fill="none"/><circle cx="286.9" cy="156.8" r="1.35" fill="#0c0c0c"/>
<path d="M289.4,150.0V155.2M287.7,150.0h3.4M287.7,155.2h3.4" stroke="#333" stroke-width="0.8" fill="none"/><circle cx="289.4" cy="152.6" r="1.35" fill="#0c0c0c"/>
<path d="M291.9,147.5V161.0M290.2,147.5h3.4M290.2,161.0h3.4" stroke="#f06050" stroke-width="0.75" fill="none"/><circle cx="291.9" cy="154.2" r="1.35" fill="#e42010"/>
<path d="M301.2,160.5V166.8M299.5,160.5h3.4M299.5,166.8h3.4" stroke="#333" stroke-width="0.8" fill="none"/><circle cx="301.2" cy="164.0" r="1.35" fill="#0c0c0c"/>
<path d="M303.3,162.0V167.5M301.6,162.0h3.4M301.6,167.5h3.4" stroke="#333" stroke-width="0.8" fill="none"/><circle cx="303.3" cy="164.7" r="1.35" fill="#0c0c0c"/>
<path d="M298.4,167.5V173.0M296.7,167.5h3.4M296.7,173.0h3.4" stroke="#333" stroke-width="0.8" fill="none"/><circle cx="298.4" cy="170.3" r="1.35" fill="#0c0c0c"/>
<path d="M296.3,170.3V176.5M294.6,170.3h3.4M294.6,176.5h3.4" stroke="#333" stroke-width="0.8" fill="none"/><circle cx="296.3" cy="173.0" r="1.35" fill="#0c0c0c"/>
<path d="M306.5,161.2V177.7M304.8,161.2h3.4M304.8,177.7h3.4" stroke="#f06050" stroke-width="0.75" fill="none"/><circle cx="306.5" cy="169.6" r="1.35" fill="#e42010"/>
<path d="M314.4,172.3V181.4M312.7,172.3h3.4M312.7,181.4h3.4" stroke="#333" stroke-width="0.8" fill="none"/><circle cx="314.4" cy="176.5" r="1.35" fill="#0c0c0c"/>
<path d="M319.3,172.3V183.5M317.6,172.3h3.4M317.6,183.5h3.4" stroke="#333" stroke-width="0.8" fill="none"/><circle cx="319.3" cy="177.9" r="1.35" fill="#0c0c0c"/>
<path d="M317.2,180.0V185.5M315.5,180.0h3.4M315.5,185.5h3.4" stroke="#333" stroke-width="0.8" fill="none"/><circle cx="317.2" cy="182.8" r="1.35" fill="#0c0c0c"/>
<path d="M311.6,181.8V189.1M309.9,181.8h3.4M309.9,189.1h3.4" stroke="#333" stroke-width="0.8" fill="none"/><circle cx="311.6" cy="185.6" r="1.35" fill="#0c0c0c"/>
<path d="M316.5,184.9V192.0M314.8,184.9h3.4M314.8,192.0h3.4" stroke="#333" stroke-width="0.8" fill="none"/><circle cx="316.5" cy="188.8" r="1.35" fill="#0c0c0c"/>
<path d="M138.4,196.0V202.4M136.3,196.0h4.2M136.3,202.4h4.2" stroke="#4e4e4e" stroke-width="0.8" fill="none"/><rect x="136.5" y="197.6" width="3.9" height="3.1" rx="0.8" fill="#dadada" stroke="#505050" stroke-width="0.8"/>
<path d="M136.7,200.4V206.8M134.6,200.4h4.2M134.6,206.8h4.2" stroke="#4e4e4e" stroke-width="0.8" fill="none"/><rect x="134.8" y="202.0" width="3.9" height="3.1" rx="0.8" fill="#dadada" stroke="#505050" stroke-width="0.8"/>
<path d="M135.6,208.3V214.7M133.5,208.3h4.2M133.5,214.7h4.2" stroke="#4e4e4e" stroke-width="0.8" fill="none"/><rect x="133.7" y="209.9" width="3.9" height="3.1" rx="0.8" fill="#dadada" stroke="#505050" stroke-width="0.8"/>
<path d="M140.0,208.8V215.2M137.9,208.8h4.2M137.9,215.2h4.2" stroke="#4e4e4e" stroke-width="0.8" fill="none"/><rect x="138.1" y="210.4" width="3.9" height="3.1" rx="0.8" fill="#dadada" stroke="#505050" stroke-width="0.8"/>
<path d="M138.4,204.9V211.3M136.3,204.9h4.2M136.3,211.3h4.2" stroke="#4e4e4e" stroke-width="0.8" fill="none"/><rect x="136.5" y="206.5" width="3.9" height="3.1" rx="0.8" fill="#dadada" stroke="#505050" stroke-width="0.8"/>
<path d="M143.2,193.0V201.2M141.3,193.0h3.8M141.3,201.2h3.8" stroke="#ea6a56" stroke-width="0.85" fill="none"/><rect x="141.4" y="195.8" width="3.6" height="3.4" rx="1.0" fill="#fde6e0" stroke="#e6604c" stroke-width="0.8"/>
<path d="M144.0,200.3V207.6M142.1,200.3h3.8M142.1,207.6h3.8" stroke="#ea6a56" stroke-width="0.85" fill="none"/><rect x="142.2" y="201.9" width="3.6" height="3.4" rx="1.0" fill="#fde6e0" stroke="#e6604c" stroke-width="0.8"/>
<path d="M145.6,201.6V208.0M143.5,201.6h4.2M143.5,208.0h4.2" stroke="#4e4e4e" stroke-width="0.8" fill="none"/><rect x="143.7" y="203.2" width="3.9" height="3.1" rx="0.8" fill="#dadada" stroke="#505050" stroke-width="0.8"/>
<path d="M144.5,207.7V214.1M142.4,207.7h4.2M142.4,214.1h4.2" stroke="#4e4e4e" stroke-width="0.8" fill="none"/><rect x="142.6" y="209.3" width="3.9" height="3.1" rx="0.8" fill="#dadada" stroke="#505050" stroke-width="0.8"/>
<path d="M148.4,199.9V206.3M146.3,199.9h4.2M146.3,206.3h4.2" stroke="#4e4e4e" stroke-width="0.8" fill="none"/><rect x="146.5" y="201.5" width="3.9" height="3.1" rx="0.8" fill="#dadada" stroke="#505050" stroke-width="0.8"/>
<path d="M150.7,196.0V202.4M148.6,196.0h4.2M148.6,202.4h4.2" stroke="#4e4e4e" stroke-width="0.8" fill="none"/><rect x="148.8" y="197.6" width="3.9" height="3.1" rx="0.8" fill="#dadada" stroke="#505050" stroke-width="0.8"/>
<path d="M149.6,206.6V213.0M147.5,206.6h4.2M147.5,213.0h4.2" stroke="#4e4e4e" stroke-width="0.8" fill="none"/><rect x="147.7" y="208.2" width="3.9" height="3.1" rx="0.8" fill="#dadada" stroke="#505050" stroke-width="0.8"/>
<path d="M152.9,197.5V206.4M151.0,197.5h3.8M151.0,206.4h3.8" stroke="#ea6a56" stroke-width="0.85" fill="none"/><rect x="151.1" y="201.9" width="3.6" height="3.4" rx="1.0" fill="#fde6e0" stroke="#e6604c" stroke-width="0.8"/>
<path d="M153.7,204.8V212.0M151.8,204.8h3.8M151.8,212.0h3.8" stroke="#ea6a56" stroke-width="0.85" fill="none"/><rect x="151.9" y="206.4" width="3.6" height="3.4" rx="1.0" fill="#fde6e0" stroke="#e6604c" stroke-width="0.8"/>
<path d="M155.7,203.2V209.6M153.6,203.2h4.2M153.6,209.6h4.2" stroke="#4e4e4e" stroke-width="0.8" fill="none"/><rect x="153.8" y="204.8" width="3.9" height="3.1" rx="0.8" fill="#dadada" stroke="#505050" stroke-width="0.8"/>
<path d="M159.0,202.7V209.1M156.9,202.7h4.2M156.9,209.1h4.2" stroke="#4e4e4e" stroke-width="0.8" fill="none"/><rect x="157.1" y="204.3" width="3.9" height="3.1" rx="0.8" fill="#dadada" stroke="#505050" stroke-width="0.8"/>
<path d="M163.5,198.8V205.2M161.4,198.8h4.2M161.4,205.2h4.2" stroke="#4e4e4e" stroke-width="0.8" fill="none"/><rect x="161.6" y="200.4" width="3.9" height="3.1" rx="0.8" fill="#dadada" stroke="#505050" stroke-width="0.8"/>
<path d="M163.0,210.9V219.5M161.1,210.9h3.8M161.1,219.5h3.8" stroke="#ea6a56" stroke-width="0.85" fill="none"/><rect x="161.2" y="213.1" width="3.6" height="3.4" rx="1.0" fill="#fde6e0" stroke="#e6604c" stroke-width="0.8"/>
<path d="M159.6,209.9V216.3M157.5,209.9h4.2M157.5,216.3h4.2" stroke="#4e4e4e" stroke-width="0.8" fill="none"/><rect x="157.7" y="211.5" width="3.9" height="3.1" rx="0.8" fill="#dadada" stroke="#505050" stroke-width="0.8"/>
<path d="M165.8,209.4V215.8M163.7,209.4h4.2M163.7,215.8h4.2" stroke="#4e4e4e" stroke-width="0.8" fill="none"/><rect x="163.9" y="211.0" width="3.9" height="3.1" rx="0.8" fill="#dadada" stroke="#505050" stroke-width="0.8"/>
<path d="M166.9,203.8V210.2M164.8,203.8h4.2M164.8,210.2h4.2" stroke="#4e4e4e" stroke-width="0.8" fill="none"/><rect x="165.0" y="205.4" width="3.9" height="3.1" rx="0.8" fill="#dadada" stroke="#505050" stroke-width="0.8"/>
<path d="M169.1,197.0V203.5M167.2,197.0h3.8M167.2,203.5h3.8" stroke="#ea6a56" stroke-width="0.85" fill="none"/><rect x="167.3" y="198.6" width="3.6" height="3.4" rx="1.0" fill="#fde6e0" stroke="#e6604c" stroke-width="0.8"/>
<path d="M171.7,194.1V202.0M169.8,194.1h3.8M169.8,202.0h3.8" stroke="#ea6a56" stroke-width="0.85" fill="none"/><rect x="169.9" y="196.4" width="3.6" height="3.4" rx="1.0" fill="#fde6e0" stroke="#e6604c" stroke-width="0.8"/>
<path d="M166.1,196.5V202.9M164.0,196.5h4.2M164.0,202.9h4.2" stroke="#4e4e4e" stroke-width="0.8" fill="none"/><rect x="164.2" y="198.1" width="3.9" height="3.1" rx="0.8" fill="#dadada" stroke="#505050" stroke-width="0.8"/>
<path d="M168.4,201.0V207.4M166.3,201.0h4.2M166.3,207.4h4.2" stroke="#4e4e4e" stroke-width="0.8" fill="none"/><rect x="166.5" y="202.6" width="3.9" height="3.1" rx="0.8" fill="#dadada" stroke="#505050" stroke-width="0.8"/>
<path d="M172.8,201.5V208.0M170.9,201.5h3.8M170.9,208.0h3.8" stroke="#ea6a56" stroke-width="0.85" fill="none"/><rect x="171.0" y="203.1" width="3.6" height="3.4" rx="1.0" fill="#fde6e0" stroke="#e6604c" stroke-width="0.8"/>
<path d="M174.5,198.2V204.6M172.4,198.2h4.2M172.4,204.6h4.2" stroke="#4e4e4e" stroke-width="0.8" fill="none"/><rect x="172.6" y="199.8" width="3.9" height="3.1" rx="0.8" fill="#dadada" stroke="#505050" stroke-width="0.8"/>
<path d="M176.2,206.6V213.0M174.1,206.6h4.2M174.1,213.0h4.2" stroke="#4e4e4e" stroke-width="0.8" fill="none"/><rect x="174.2" y="208.2" width="3.9" height="3.1" rx="0.8" fill="#dadada" stroke="#505050" stroke-width="0.8"/>
<path d="M179.0,202.7V209.1M176.9,202.7h4.2M176.9,209.1h4.2" stroke="#4e4e4e" stroke-width="0.8" fill="none"/><rect x="177.1" y="204.3" width="3.9" height="3.1" rx="0.8" fill="#dadada" stroke="#505050" stroke-width="0.8"/>
<path d="M181.2,202.0V209.5M179.3,202.0h3.8M179.3,209.5h3.8" stroke="#ea6a56" stroke-width="0.85" fill="none"/><rect x="179.4" y="204.2" width="3.6" height="3.4" rx="1.0" fill="#fde6e0" stroke="#e6604c" stroke-width="0.8"/>
<path d="M178.4,211.6V218.0M176.3,211.6h4.2M176.3,218.0h4.2" stroke="#4e4e4e" stroke-width="0.8" fill="none"/><rect x="176.5" y="213.2" width="3.9" height="3.1" rx="0.8" fill="#dadada" stroke="#505050" stroke-width="0.8"/>
<path d="M184.6,208.7V215.2M182.5,208.7h4.2M182.5,215.2h4.2" stroke="#4e4e4e" stroke-width="0.8" fill="none"/><rect x="182.7" y="210.4" width="3.9" height="3.1" rx="0.8" fill="#dadada" stroke="#505050" stroke-width="0.8"/>
<path d="M181.5,210.3V218.2M179.6,210.3h3.8M179.6,218.2h3.8" stroke="#ea6a56" stroke-width="0.85" fill="none"/><rect x="179.7" y="212.0" width="3.6" height="3.4" rx="1.0" fill="#fde6e0" stroke="#e6604c" stroke-width="0.8"/>
<path d="M182.0,218.2V223.8M180.1,218.2h3.8M180.1,223.8h3.8" stroke="#ea6a56" stroke-width="0.85" fill="none"/><rect x="180.2" y="218.7" width="3.6" height="3.4" rx="1.0" fill="#fde6e0" stroke="#e6604c" stroke-width="0.8"/>
<path d="M185.7,214.4V220.8M183.6,214.4h4.2M183.6,220.8h4.2" stroke="#4e4e4e" stroke-width="0.8" fill="none"/><rect x="183.8" y="216.0" width="3.9" height="3.1" rx="0.8" fill="#dadada" stroke="#505050" stroke-width="0.8"/>
<path d="M187.9,212.7V219.1M185.8,212.7h4.2M185.8,219.1h4.2" stroke="#4e4e4e" stroke-width="0.8" fill="none"/><rect x="186.0" y="214.3" width="3.9" height="3.1" rx="0.8" fill="#dadada" stroke="#505050" stroke-width="0.8"/>
<path d="M192.4,212.0V219.8M190.5,212.0h3.8M190.5,219.8h3.8" stroke="#ea6a56" stroke-width="0.85" fill="none"/><rect x="190.6" y="214.2" width="3.6" height="3.4" rx="1.0" fill="#fde6e0" stroke="#e6604c" stroke-width="0.8"/>
<path d="M190.7,219.0V225.0M188.8,219.0h3.8M188.8,225.0h3.8" stroke="#ea6a56" stroke-width="0.85" fill="none"/><rect x="188.9" y="220.4" width="3.6" height="3.4" rx="1.0" fill="#fde6e0" stroke="#e6604c" stroke-width="0.8"/>
<path d="M194.6,218.3V224.7M192.5,218.3h4.2M192.5,224.7h4.2" stroke="#4e4e4e" stroke-width="0.8" fill="none"/><rect x="192.7" y="219.9" width="3.9" height="3.1" rx="0.8" fill="#dadada" stroke="#505050" stroke-width="0.8"/>
<path d="M196.3,217.2V223.6M194.2,217.2h4.2M194.2,223.6h4.2" stroke="#4e4e4e" stroke-width="0.8" fill="none"/><rect x="194.4" y="218.8" width="3.9" height="3.1" rx="0.8" fill="#dadada" stroke="#505050" stroke-width="0.8"/>
<path d="M191.5,212.7V220.0M189.6,212.7h3.8M189.6,220.0h3.8" stroke="#ea6a56" stroke-width="0.85" fill="none"/><rect x="189.7" y="214.8" width="3.6" height="3.4" rx="1.0" fill="#fde6e0" stroke="#e6604c" stroke-width="0.8"/>
<path d="M193.1,219.5V225.9M191.0,219.5h4.2M191.0,225.9h4.2" stroke="#4e4e4e" stroke-width="0.8" fill="none"/><rect x="191.2" y="221.1" width="3.9" height="3.1" rx="0.8" fill="#dadada" stroke="#505050" stroke-width="0.8"/>
<path d="M195.4,217.9V224.3M193.3,217.9h4.2M193.3,224.3h4.2" stroke="#4e4e4e" stroke-width="0.8" fill="none"/><rect x="193.5" y="219.5" width="3.9" height="3.1" rx="0.8" fill="#dadada" stroke="#505050" stroke-width="0.8"/>
<path d="M193.1,224.8V231.2M191.0,224.8h4.2M191.0,231.2h4.2" stroke="#4e4e4e" stroke-width="0.8" fill="none"/><rect x="191.2" y="226.4" width="3.9" height="3.1" rx="0.8" fill="#dadada" stroke="#505050" stroke-width="0.8"/>
<path d="M196.9,227.1V233.5M194.8,227.1h4.2M194.8,233.5h4.2" stroke="#4e4e4e" stroke-width="0.8" fill="none"/><rect x="195.0" y="228.8" width="3.9" height="3.1" rx="0.8" fill="#dadada" stroke="#505050" stroke-width="0.8"/>
<path d="M199.2,235.0V242.6M197.3,235.0h3.8M197.3,242.6h3.8" stroke="#ea6a56" stroke-width="0.85" fill="none"/><rect x="197.4" y="236.3" width="3.6" height="3.4" rx="1.0" fill="#fde6e0" stroke="#e6604c" stroke-width="0.8"/>
<path d="M200.8,241.9V249.5M198.9,241.9h3.8M198.9,249.5h3.8" stroke="#ea6a56" stroke-width="0.85" fill="none"/><rect x="199.0" y="244.0" width="3.6" height="3.4" rx="1.0" fill="#fde6e0" stroke="#e6604c" stroke-width="0.8"/>
<path d="M202.3,236.4V242.8M200.2,236.4h4.2M200.2,242.8h4.2" stroke="#4e4e4e" stroke-width="0.8" fill="none"/><rect x="200.4" y="238.0" width="3.9" height="3.1" rx="0.8" fill="#dadada" stroke="#505050" stroke-width="0.8"/>
<path d="M205.4,234.1V240.5M203.3,234.1h4.2M203.3,240.5h4.2" stroke="#4e4e4e" stroke-width="0.8" fill="none"/><rect x="203.5" y="235.8" width="3.9" height="3.1" rx="0.8" fill="#dadada" stroke="#505050" stroke-width="0.8"/>
<path d="M208.4,238.7V245.1M206.3,238.7h4.2M206.3,245.1h4.2" stroke="#4e4e4e" stroke-width="0.8" fill="none"/><rect x="206.5" y="240.3" width="3.9" height="3.1" rx="0.8" fill="#dadada" stroke="#505050" stroke-width="0.8"/>
<path d="M210.0,242.5V249.5M207.9,242.5h4.2M207.9,249.5h4.2" stroke="#4e4e4e" stroke-width="0.8" fill="none"/><rect x="208.1" y="244.1" width="3.9" height="3.1" rx="0.8" fill="#dadada" stroke="#505050" stroke-width="0.8"/>
<path d="M211.5,233.4V239.6M209.6,233.4h3.8M209.6,239.6h3.8" stroke="#ea6a56" stroke-width="0.85" fill="none"/><rect x="209.7" y="234.8" width="3.6" height="3.4" rx="1.0" fill="#fde6e0" stroke="#e6604c" stroke-width="0.8"/>
<path d="M213.0,227.1V233.5M210.9,227.1h4.2M210.9,233.5h4.2" stroke="#4e4e4e" stroke-width="0.8" fill="none"/><rect x="211.1" y="228.8" width="3.9" height="3.1" rx="0.8" fill="#dadada" stroke="#505050" stroke-width="0.8"/>
<path d="M215.3,228.7V235.1M213.2,228.7h4.2M213.2,235.1h4.2" stroke="#4e4e4e" stroke-width="0.8" fill="none"/><rect x="213.4" y="230.3" width="3.9" height="3.1" rx="0.8" fill="#dadada" stroke="#505050" stroke-width="0.8"/>
<path d="M217.6,234.1V240.5M215.5,234.1h4.2M215.5,240.5h4.2" stroke="#4e4e4e" stroke-width="0.8" fill="none"/><rect x="215.7" y="235.8" width="3.9" height="3.1" rx="0.8" fill="#dadada" stroke="#505050" stroke-width="0.8"/>
<path d="M220.7,215.8V227.3M218.8,215.8h3.8M218.8,227.3h3.8" stroke="#ea6a56" stroke-width="0.85" fill="none"/><rect x="218.9" y="221.7" width="3.6" height="3.4" rx="1.0" fill="#fde6e0" stroke="#e6604c" stroke-width="0.8"/>
<path d="M223.8,222.5V228.9M221.7,222.5h4.2M221.7,228.9h4.2" stroke="#4e4e4e" stroke-width="0.8" fill="none"/><rect x="221.9" y="224.1" width="3.9" height="3.1" rx="0.8" fill="#dadada" stroke="#505050" stroke-width="0.8"/>
<path d="M226.1,219.5V225.9M224.0,219.5h4.2M224.0,225.9h4.2" stroke="#4e4e4e" stroke-width="0.8" fill="none"/><rect x="224.2" y="221.1" width="3.9" height="3.1" rx="0.8" fill="#dadada" stroke="#505050" stroke-width="0.8"/>
<path d="M231.5,222.7V229.6M229.6,222.7h3.8M229.6,229.6h3.8" stroke="#ea6a56" stroke-width="0.85" fill="none"/><rect x="229.7" y="224.0" width="3.6" height="3.4" rx="1.0" fill="#fde6e0" stroke="#e6604c" stroke-width="0.8"/>
<path d="M227.6,227.9V234.3M225.5,227.9h4.2M225.5,234.3h4.2" stroke="#4e4e4e" stroke-width="0.8" fill="none"/><rect x="225.7" y="229.5" width="3.9" height="3.1" rx="0.8" fill="#dadada" stroke="#505050" stroke-width="0.8"/>
<path d="M229.9,216.4V222.8M227.8,216.4h4.2M227.8,222.8h4.2" stroke="#4e4e4e" stroke-width="0.8" fill="none"/><rect x="228.0" y="218.0" width="3.9" height="3.1" rx="0.8" fill="#dadada" stroke="#505050" stroke-width="0.8"/>
<path d="M233.0,214.9V221.3M230.9,214.9h4.2M230.9,221.3h4.2" stroke="#4e4e4e" stroke-width="0.8" fill="none"/><rect x="231.1" y="216.5" width="3.9" height="3.1" rx="0.8" fill="#dadada" stroke="#505050" stroke-width="0.8"/>
<path d="M236.1,211.8V218.2M234.0,211.8h4.2M234.0,218.2h4.2" stroke="#4e4e4e" stroke-width="0.8" fill="none"/><rect x="234.2" y="213.4" width="3.9" height="3.1" rx="0.8" fill="#dadada" stroke="#505050" stroke-width="0.8"/>
<path d="M238.4,209.5V215.9M236.3,209.5h4.2M236.3,215.9h4.2" stroke="#4e4e4e" stroke-width="0.8" fill="none"/><rect x="236.5" y="211.1" width="3.9" height="3.1" rx="0.8" fill="#dadada" stroke="#505050" stroke-width="0.8"/>
<path d="M240.4,208.8V242.8M238.5,208.8h3.8M238.5,242.8h3.8" stroke="#ea6a56" stroke-width="0.85" fill="none"/><rect x="238.6" y="224.8" width="3.6" height="3.4" rx="1.0" fill="#fde6e0" stroke="#e6604c" stroke-width="0.8"/>
<path d="M240.7,207.9V214.3M238.6,207.9h4.2M238.6,214.3h4.2" stroke="#4e4e4e" stroke-width="0.8" fill="none"/><rect x="238.8" y="209.5" width="3.9" height="3.1" rx="0.8" fill="#dadada" stroke="#505050" stroke-width="0.8"/>
<path d="M201.3,241.9V255.4M199.4,241.9h3.8M199.4,255.4h3.8" stroke="#ea6a56" stroke-width="0.85" fill="none"/><rect x="199.5" y="243.9" width="3.6" height="3.4" rx="1.0" fill="#fde6e0" stroke="#e6604c" stroke-width="0.8"/>
<path d="M210.6,244.0V262.8M208.7,244.0h3.8M208.7,262.8h3.8" stroke="#ea6a56" stroke-width="0.85" fill="none"/><rect x="208.8" y="252.0" width="3.6" height="3.4" rx="1.0" fill="#fde6e0" stroke="#e6604c" stroke-width="0.8"/>
<path d="M209.2,241.5V248.9M207.1,241.5h4.2M207.1,248.9h4.2" stroke="#4e4e4e" stroke-width="0.8" fill="none"/><rect x="207.2" y="243.1" width="3.9" height="3.1" rx="0.8" fill="#dadada" stroke="#505050" stroke-width="0.8"/>
<path d="M161.1,240.7V248.6M159.4,240.7h3.4M159.4,248.6h3.4" stroke="#333" stroke-width="0.8" fill="none"/><circle cx="161.1" cy="244.8" r="1.35" fill="#0c0c0c"/>
<path d="M165.1,238.1V250.1M163.4,238.1h3.4M163.4,250.1h3.4" stroke="#f06050" stroke-width="0.75" fill="none"/><circle cx="165.1" cy="243.8" r="1.35" fill="#e42010"/>
<path d="M167.8,241.0V247.6M166.1,241.0h3.4M166.1,247.6h3.4" stroke="#333" stroke-width="0.8" fill="none"/><circle cx="167.8" cy="244.4" r="1.35" fill="#0c0c0c"/>
<path d="M164.1,249.4V263.6M162.4,249.4h3.4M162.4,263.6h3.4" stroke="#f06050" stroke-width="0.75" fill="none"/><circle cx="164.1" cy="256.4" r="1.35" fill="#e42010"/>
<path d="M169.1,250.7V257.0M167.4,250.7h3.4M167.4,257.0h3.4" stroke="#333" stroke-width="0.8" fill="none"/><circle cx="169.1" cy="253.8" r="1.35" fill="#0c0c0c"/>
<path d="M166.1,259.4V265.2M164.4,259.4h3.4M164.4,265.2h3.4" stroke="#333" stroke-width="0.8" fill="none"/><circle cx="166.1" cy="262.0" r="1.35" fill="#0c0c0c"/>
<path d="M174.9,248.2V260.1M173.2,248.2h3.4M173.2,260.1h3.4" stroke="#f06050" stroke-width="0.75" fill="none"/><circle cx="174.9" cy="254.5" r="1.35" fill="#e42010"/>
<path d="M178.3,255.7V263.9M176.6,255.7h3.4M176.6,263.9h3.4" stroke="#333" stroke-width="0.8" fill="none"/><circle cx="178.3" cy="259.5" r="1.35" fill="#0c0c0c"/>
<path d="M177.6,255.5V261.0M175.9,255.5h3.4M175.9,261.0h3.4" stroke="#333" stroke-width="0.8" fill="none"/><circle cx="177.6" cy="258.2" r="1.35" fill="#0c0c0c"/>
<path d="M182.0,255.0V260.2M180.3,255.0h3.4M180.3,260.2h3.4" stroke="#333" stroke-width="0.8" fill="none"/><circle cx="182.0" cy="257.6" r="1.35" fill="#0c0c0c"/>
<path d="M183.4,259.5V273.0M181.7,259.5h3.4M181.7,273.0h3.4" stroke="#f06050" stroke-width="0.75" fill="none"/><circle cx="183.4" cy="266.0" r="1.35" fill="#e42010"/>
<path d="M185.8,260.8V267.1M184.1,260.8h3.4M184.1,267.1h3.4" stroke="#333" stroke-width="0.8" fill="none"/><circle cx="185.8" cy="264.5" r="1.35" fill="#0c0c0c"/>
<path d="M187.1,260.5V266.0M185.4,260.5h3.4M185.4,266.0h3.4" stroke="#333" stroke-width="0.8" fill="none"/><circle cx="187.1" cy="263.3" r="1.35" fill="#0c0c0c"/>
<path d="M188.2,259.3V264.5M186.5,259.3h3.4M186.5,264.5h3.4" stroke="#333" stroke-width="0.8" fill="none"/><circle cx="188.2" cy="261.9" r="1.35" fill="#0c0c0c"/>
<path d="M191.6,255.0V260.8M189.9,255.0h3.4M189.9,260.8h3.4" stroke="#333" stroke-width="0.8" fill="none"/><circle cx="191.6" cy="257.6" r="1.35" fill="#0c0c0c"/>
<path d="M194.0,267.0V274.5M192.3,267.0h3.4M192.3,274.5h3.4" stroke="#f06050" stroke-width="0.75" fill="none"/><circle cx="194.0" cy="270.8" r="1.35" fill="#e42010"/>
<path d="M193.8,269.4V280.1M192.1,269.4h3.4M192.1,280.1h3.4" stroke="#f06050" stroke-width="0.75" fill="none"/><circle cx="193.8" cy="275.1" r="1.35" fill="#e42010"/>
<path d="M197.6,268.2V275.1M195.9,268.2h3.4M195.9,275.1h3.4" stroke="#333" stroke-width="0.8" fill="none"/><circle cx="197.6" cy="272.0" r="1.35" fill="#0c0c0c"/>
<path d="M198.8,271.0V276.5M197.1,271.0h3.4M197.1,276.5h3.4" stroke="#333" stroke-width="0.8" fill="none"/><circle cx="198.8" cy="273.8" r="1.35" fill="#0c0c0c"/>
<path d="M199.5,273.5V279.0M197.8,273.5h3.4M197.8,279.0h3.4" stroke="#333" stroke-width="0.8" fill="none"/><circle cx="199.5" cy="276.4" r="1.35" fill="#0c0c0c"/>
<path d="M202.5,285.4V300.0M200.8,285.4h3.4M200.8,300.0h3.4" stroke="#f06050" stroke-width="0.75" fill="none"/><circle cx="202.5" cy="292.7" r="1.35" fill="#e42010"/>
<path d="M201.0,298.1V305.9M199.3,298.1h3.4M199.3,305.9h3.4" stroke="#333" stroke-width="0.8" fill="none"/><circle cx="201.0" cy="302.3" r="1.35" fill="#0c0c0c"/>
<path d="M209.1,281.5V287.8M207.4,281.5h3.4M207.4,287.8h3.4" stroke="#333" stroke-width="0.8" fill="none"/><circle cx="209.1" cy="284.9" r="1.35" fill="#0c0c0c"/>
<path d="M213.0,272.6V289.8M211.3,272.6h3.4M211.3,289.8h3.4" stroke="#f06050" stroke-width="0.75" fill="none"/><circle cx="213.0" cy="283.3" r="1.35" fill="#e42010"/>
<path d="M214.1,281.5V287.0M212.4,281.5h3.4M212.4,287.0h3.4" stroke="#333" stroke-width="0.8" fill="none"/><circle cx="214.1" cy="284.4" r="1.35" fill="#0c0c0c"/>
<path d="M212.3,287.3V299.5M210.6,287.3h3.4M210.6,299.5h3.4" stroke="#f06050" stroke-width="0.75" fill="none"/><circle cx="212.3" cy="290.3" r="1.35" fill="#e42010"/>
<path d="M118.7,296.8V313.5M116.8,296.8h3.8M116.8,313.5h3.8" stroke="#7a7a7a" stroke-width="0.8" fill="none"/><rect x="117.0" y="303.1" width="3.3" height="3.1" rx="0.5" fill="#dadada" stroke="#666" stroke-width="0.75"/>
<path d="M125.5,302.1V317.8M123.6,302.1h3.8M123.6,317.8h3.8" stroke="#7a7a7a" stroke-width="0.8" fill="none"/><rect x="123.8" y="308.1" width="3.3" height="3.1" rx="0.5" fill="#dadada" stroke="#666" stroke-width="0.75"/>
<path d="M128.9,298.8V307.7M127.0,298.8h3.8M127.0,307.7h3.8" stroke="#7a7a7a" stroke-width="0.8" fill="none"/><rect x="127.2" y="302.6" width="3.3" height="3.1" rx="0.5" fill="#dadada" stroke="#666" stroke-width="0.75"/>
<path d="M150.0,317.4V334.5M148.1,317.4h3.8M148.1,334.5h3.8" stroke="#7a7a7a" stroke-width="0.8" fill="none"/><rect x="148.3" y="324.3" width="3.3" height="3.1" rx="0.5" fill="#dadada" stroke="#666" stroke-width="0.75"/>
<path d="M165.6,307.2V319.3M163.7,307.2h3.8M163.7,319.3h3.8" stroke="#7a7a7a" stroke-width="0.8" fill="none"/><rect x="163.9" y="310.9" width="3.3" height="3.1" rx="0.5" fill="#dadada" stroke="#666" stroke-width="0.75"/>
<path d="M48.5,355.4V362.6M46.6,355.4h3.8M46.6,362.6h3.8" stroke="#7a7a7a" stroke-width="0.8" fill="none"/><rect x="46.9" y="357.4" width="3.3" height="3.1" rx="0.5" fill="#dadada" stroke="#666" stroke-width="0.75"/>
<path d="M52.0,355.4V362.6M50.1,355.4h3.8M50.1,362.6h3.8" stroke="#7a7a7a" stroke-width="0.8" fill="none"/><rect x="50.4" y="357.4" width="3.3" height="3.1" rx="0.5" fill="#dadada" stroke="#666" stroke-width="0.75"/>
<path d="M55.6,362.6V369.8M53.7,362.6h3.8M53.7,369.8h3.8" stroke="#7a7a7a" stroke-width="0.8" fill="none"/><rect x="54.0" y="364.6" width="3.3" height="3.1" rx="0.5" fill="#dadada" stroke="#666" stroke-width="0.75"/>
<path d="M58.4,362.0V369.2M56.5,362.0h3.8M56.5,369.2h3.8" stroke="#7a7a7a" stroke-width="0.8" fill="none"/><rect x="56.8" y="364.1" width="3.3" height="3.1" rx="0.5" fill="#dadada" stroke="#666" stroke-width="0.75"/>
<path d="M62.3,368.2V375.7M60.4,368.2h3.8M60.4,375.7h3.8" stroke="#7a7a7a" stroke-width="0.8" fill="none"/><rect x="60.6" y="370.2" width="3.3" height="3.1" rx="0.5" fill="#dadada" stroke="#666" stroke-width="0.75"/>
<path d="M65.6,363.4V370.9M63.7,363.4h3.8M63.7,370.9h3.8" stroke="#7a7a7a" stroke-width="0.8" fill="none"/><rect x="63.9" y="365.8" width="3.3" height="3.1" rx="0.5" fill="#dadada" stroke="#666" stroke-width="0.75"/>
<path d="M69.0,370.4V377.6M67.1,370.4h3.8M67.1,377.6h3.8" stroke="#7a7a7a" stroke-width="0.8" fill="none"/><rect x="67.3" y="372.4" width="3.3" height="3.1" rx="0.5" fill="#dadada" stroke="#666" stroke-width="0.75"/>
<path d="M72.3,376.8V385.2M70.4,376.8h3.8M70.4,385.2h3.8" stroke="#7a7a7a" stroke-width="0.8" fill="none"/><rect x="70.6" y="379.1" width="3.3" height="3.1" rx="0.5" fill="#dadada" stroke="#666" stroke-width="0.75"/>
<path d="M75.7,383.2V391.3M73.8,383.2h3.8M73.8,391.3h3.8" stroke="#7a7a7a" stroke-width="0.8" fill="none"/><rect x="74.0" y="385.2" width="3.3" height="3.1" rx="0.5" fill="#dadada" stroke="#666" stroke-width="0.75"/>
<path d="M79.0,387.2V396.3M77.1,387.2h3.8M77.1,396.3h3.8" stroke="#7a7a7a" stroke-width="0.8" fill="none"/><rect x="77.3" y="389.2" width="3.3" height="3.1" rx="0.5" fill="#dadada" stroke="#666" stroke-width="0.75"/>
<path d="M82.4,391.1V398.3M80.5,391.1h3.8M80.5,398.3h3.8" stroke="#7a7a7a" stroke-width="0.8" fill="none"/><rect x="80.8" y="393.1" width="3.3" height="3.1" rx="0.5" fill="#dadada" stroke="#666" stroke-width="0.75"/>
<path d="M85.6,400.1V411.3M83.7,400.1h3.8M83.7,411.3h3.8" stroke="#7a7a7a" stroke-width="0.8" fill="none"/><rect x="83.9" y="404.1" width="3.3" height="3.1" rx="0.5" fill="#dadada" stroke="#666" stroke-width="0.75"/>
<path d="M88.8,392.3V401.3M86.9,392.3h3.8M86.9,401.3h3.8" stroke="#7a7a7a" stroke-width="0.8" fill="none"/><rect x="87.1" y="395.2" width="3.3" height="3.1" rx="0.5" fill="#dadada" stroke="#666" stroke-width="0.75"/>
<path d="M92.3,402.4V414.1M90.4,402.4h3.8M90.4,414.1h3.8" stroke="#7a7a7a" stroke-width="0.8" fill="none"/><rect x="90.6" y="406.4" width="3.3" height="3.1" rx="0.5" fill="#dadada" stroke="#666" stroke-width="0.75"/>
<path d="M95.1,398.5V409.1M93.2,398.5h3.8M93.2,409.1h3.8" stroke="#7a7a7a" stroke-width="0.8" fill="none"/><rect x="93.4" y="401.9" width="3.3" height="3.1" rx="0.5" fill="#dadada" stroke="#666" stroke-width="0.75"/>
<path d="M98.7,408.5V421.4M96.8,408.5h3.8M96.8,421.4h3.8" stroke="#7a7a7a" stroke-width="0.8" fill="none"/><rect x="97.0" y="413.1" width="3.3" height="3.1" rx="0.5" fill="#dadada" stroke="#666" stroke-width="0.75"/>
<path d="M101.9,393.5V403.6M100.0,393.5h3.8M100.0,403.6h3.8" stroke="#7a7a7a" stroke-width="0.8" fill="none"/><rect x="100.2" y="397.1" width="3.3" height="3.1" rx="0.5" fill="#dadada" stroke="#666" stroke-width="0.75"/>
<path d="M104.9,395.5V403.5M103.0,395.5h3.8M103.0,403.5h3.8" stroke="#7a7a7a" stroke-width="0.8" fill="none"/><rect x="103.2" y="397.6" width="3.3" height="3.1" rx="0.5" fill="#dadada" stroke="#666" stroke-width="0.75"/>
<path d="M108.6,383.5V391.3M106.7,383.5h3.8M106.7,391.3h3.8" stroke="#7a7a7a" stroke-width="0.8" fill="none"/><rect x="106.9" y="385.8" width="3.3" height="3.1" rx="0.5" fill="#dadada" stroke="#666" stroke-width="0.75"/>
<path d="M112.0,379.6V387.4M110.1,379.6h3.8M110.1,387.4h3.8" stroke="#7a7a7a" stroke-width="0.8" fill="none"/><rect x="110.3" y="381.9" width="3.3" height="3.1" rx="0.5" fill="#dadada" stroke="#666" stroke-width="0.75"/>
<path d="M114.8,376.5V383.7M112.9,376.5h3.8M112.9,383.7h3.8" stroke="#7a7a7a" stroke-width="0.8" fill="none"/><rect x="113.1" y="378.6" width="3.3" height="3.1" rx="0.5" fill="#dadada" stroke="#666" stroke-width="0.75"/>
<path d="M117.0,373.7V380.9M115.1,373.7h3.8M115.1,380.9h3.8" stroke="#7a7a7a" stroke-width="0.8" fill="none"/><rect x="115.3" y="375.8" width="3.3" height="3.1" rx="0.5" fill="#dadada" stroke="#666" stroke-width="0.75"/>
<path d="M119.2,371.5V378.7M117.3,371.5h3.8M117.3,378.7h3.8" stroke="#7a7a7a" stroke-width="0.8" fill="none"/><rect x="117.5" y="373.6" width="3.3" height="3.1" rx="0.5" fill="#dadada" stroke="#666" stroke-width="0.75"/>
<path d="M121.5,362.8V370.3M119.6,362.8h3.8M119.6,370.3h3.8" stroke="#7a7a7a" stroke-width="0.8" fill="none"/><rect x="119.8" y="365.1" width="3.3" height="3.1" rx="0.5" fill="#dadada" stroke="#666" stroke-width="0.75"/>
<path d="M124.8,364.2V371.4M122.9,364.2h3.8M122.9,371.4h3.8" stroke="#7a7a7a" stroke-width="0.8" fill="none"/><rect x="123.1" y="366.2" width="3.3" height="3.1" rx="0.5" fill="#dadada" stroke="#666" stroke-width="0.75"/>
<path d="M128.2,361.5V368.7M126.3,361.5h3.8M126.3,368.7h3.8" stroke="#7a7a7a" stroke-width="0.8" fill="none"/><rect x="126.5" y="363.6" width="3.3" height="3.1" rx="0.5" fill="#dadada" stroke="#666" stroke-width="0.75"/>
<path d="M131.0,358.1V365.3M129.1,358.1h3.8M129.1,365.3h3.8" stroke="#7a7a7a" stroke-width="0.8" fill="none"/><rect x="129.3" y="360.1" width="3.3" height="3.1" rx="0.5" fill="#dadada" stroke="#666" stroke-width="0.75"/>
<path d="M133.8,357.5V364.7M131.9,357.5h3.8M131.9,364.7h3.8" stroke="#7a7a7a" stroke-width="0.8" fill="none"/><rect x="132.2" y="359.6" width="3.3" height="3.1" rx="0.5" fill="#dadada" stroke="#666" stroke-width="0.75"/>
<path d="M136.5,360.3V367.5M134.6,360.3h3.8M134.6,367.5h3.8" stroke="#7a7a7a" stroke-width="0.8" fill="none"/><rect x="134.8" y="362.3" width="3.3" height="3.1" rx="0.5" fill="#dadada" stroke="#666" stroke-width="0.75"/>
<path d="M138.5,361.0V368.2M136.6,361.0h3.8M136.6,368.2h3.8" stroke="#7a7a7a" stroke-width="0.8" fill="none"/><rect x="136.8" y="363.1" width="3.3" height="3.1" rx="0.5" fill="#dadada" stroke="#666" stroke-width="0.75"/>
<path d="M141.9,363.2V370.7M140.0,363.2h3.8M140.0,370.7h3.8" stroke="#7a7a7a" stroke-width="0.8" fill="none"/><rect x="140.2" y="365.2" width="3.3" height="3.1" rx="0.5" fill="#dadada" stroke="#666" stroke-width="0.75"/>
<path d="M145.1,356.0V363.2M143.2,356.0h3.8M143.2,363.2h3.8" stroke="#7a7a7a" stroke-width="0.8" fill="none"/><rect x="143.4" y="358.1" width="3.3" height="3.1" rx="0.5" fill="#dadada" stroke="#666" stroke-width="0.75"/>
<path d="M148.5,358.4V366.5M146.6,358.4h3.8M146.6,366.5h3.8" stroke="#7a7a7a" stroke-width="0.8" fill="none"/><rect x="146.8" y="361.3" width="3.3" height="3.1" rx="0.5" fill="#dadada" stroke="#666" stroke-width="0.75"/>
<path d="M154.6,359.6V367.4M152.7,359.6h3.8M152.7,367.4h3.8" stroke="#7a7a7a" stroke-width="0.8" fill="none"/><rect x="152.9" y="361.9" width="3.3" height="3.1" rx="0.5" fill="#dadada" stroke="#666" stroke-width="0.75"/>
<path d="M158.0,359.6V367.9M156.1,359.6h3.8M156.1,367.9h3.8" stroke="#7a7a7a" stroke-width="0.8" fill="none"/><rect x="156.3" y="362.4" width="3.3" height="3.1" rx="0.5" fill="#dadada" stroke="#666" stroke-width="0.75"/>
<path d="M161.9,355.1V362.6M160.0,355.1h3.8M160.0,362.6h3.8" stroke="#7a7a7a" stroke-width="0.8" fill="none"/><rect x="160.2" y="357.4" width="3.3" height="3.1" rx="0.5" fill="#dadada" stroke="#666" stroke-width="0.75"/>
<g fill="none" stroke="#474747" stroke-width="1.15">
<rect x="34.6" y="5.45" width="322.9" height="432.85"/>
<path d="M34.60,438.3v-3.8M34.60,5.2v3.8M57.66,438.3v-3.8M57.66,5.2v3.8M80.73,438.3v-3.8M80.73,5.2v3.8M103.79,438.3v-7M103.79,5.2v7M126.86,438.3v-3.8M126.86,5.2v3.8M149.92,438.3v-3.8M149.92,5.2v3.8M172.99,438.3v-3.8M172.99,5.2v3.8M196.05,438.3v-3.8M196.05,5.2v3.8M219.11,438.3v-7M219.11,5.2v7M242.18,438.3v-3.8M242.18,5.2v3.8M265.24,438.3v-3.8M265.24,5.2v3.8M288.31,438.3v-3.8M288.31,5.2v3.8M311.37,438.3v-3.8M311.37,5.2v3.8M334.44,438.3v-7M334.44,5.2v7M357.50,438.3v-3.8M357.50,5.2v3.8M34.6,5.20h7M357.5,5.20h-7M34.6,38.52h3.8M357.5,38.52h-3.8M34.6,71.83h3.8M357.5,71.83h-3.8M34.6,105.15h3.8M357.5,105.15h-3.8M34.6,138.46h7M357.5,138.46h-7M34.6,171.78h3.8M357.5,171.78h-3.8M34.6,205.09h3.8M357.5,205.09h-3.8M34.6,238.41h3.8M357.5,238.41h-3.8M34.6,271.72h7M357.5,271.72h-7M34.6,305.04h3.8M357.5,305.04h-3.8M34.6,338.35h3.8M357.5,338.35h-3.8M34.6,371.67h3.8M357.5,371.67h-3.8M34.6,404.98h7M357.5,404.98h-7M34.6,438.30h3.8M357.5,438.30h-3.8"/>
</g>
<rect x="40.9" y="42.3" width="44.1" height="25.7" fill="#fff"/>
<text transform="translate(41.9,53.7) scale(0.985,1)" font-family="Liberation Serif, serif" font-size="11.6" fill="#111" stroke="#111" stroke-width="0.22">HST</text>
<text transform="translate(41.9,66.7) scale(0.985,1)" font-family="Liberation Serif, serif" font-size="11.6" fill="#111" stroke="#111" stroke-width="0.22">2007 - 2013</text>
<rect x="36.4" y="93.1" width="48.6" height="27.9" fill="#fff"/>
<text transform="translate(43.4,104.5) scale(0.985,1)" font-family="Liberation Serif, serif" font-size="11.6" fill="#111" stroke="#111" stroke-width="0.22">SOAR</text>
<text transform="translate(43.4,118.3) scale(0.985,1)" font-family="Liberation Serif, serif" font-size="11.6" fill="#111" stroke="#111" stroke-width="0.22">2016 Aug 25</text>
<rect x="36.4" y="142.0" width="48.6" height="29.0" fill="#fff"/>
<text transform="translate(41.9,153.4) scale(0.985,1)" font-family="Liberation Serif, serif" font-size="11.6" fill="#111" stroke="#111" stroke-width="0.22">SOAR</text>
<text transform="translate(41.9,165.9) scale(0.985,1)" font-family="Liberation Serif, serif" font-size="11.6" fill="#111" stroke="#111" stroke-width="0.22">2016 Aug 26</text>
<rect x="40.6" y="188.1" width="44.4" height="25.8" fill="#fff"/>
<text transform="translate(44.3,199.5) scale(0.985,1)" font-family="Liberation Serif, serif" font-size="11.6" fill="#111" stroke="#111" stroke-width="0.22">Gemini</text>
<text transform="translate(44.3,212.8) scale(0.985,1)" font-family="Liberation Serif, serif" font-size="11.6" fill="#111" stroke="#111" stroke-width="0.22">2017 Jul 22</text>
<rect x="40.9" y="239.3" width="44.1" height="25.7" fill="#fff"/>
<text transform="translate(41.4,250.7) scale(0.985,1)" font-family="Liberation Serif, serif" font-size="11.6" fill="#111" stroke="#111" stroke-width="0.22">Gemini</text>
<text transform="translate(41.4,264.3) scale(0.985,1)" font-family="Liberation Serif, serif" font-size="11.6" fill="#111" stroke="#111" stroke-width="0.22">2017 Jul 25</text>
<rect x="40.9" y="296.3" width="44.1" height="27.1" fill="#fff"/>
<text transform="translate(44.0,307.7) scale(0.985,1)" font-family="Liberation Serif, serif" font-size="11.6" fill="#111" stroke="#111" stroke-width="0.22">DCT</text>
<text transform="translate(44.0,320.2) scale(0.985,1)" font-family="Liberation Serif, serif" font-size="11.6" fill="#111" stroke="#111" stroke-width="0.22">2017 Nov 9</text>
<text transform="translate(41.3,414.4) scale(0.985,1)" font-family="Liberation Serif, serif" font-size="11.6" fill="#111" stroke="#111" stroke-width="0.22">DCT</text>
<text transform="translate(41.3,426.7) scale(0.985,1)" font-family="Liberation Serif, serif" font-size="11.6" fill="#111" stroke="#111" stroke-width="0.22">2018 Oct 6</text>
<g font-family="Liberation Serif, serif" font-size="15.3" fill="#1a1a1a" stroke="#1a1a1a" stroke-width="0.12" text-anchor="middle">
<text transform="translate(23.9,11.1) scale(1.13,1)">0</text>
<text transform="translate(23.9,143.7) scale(1.13,1)">2</text>
<text transform="translate(23.9,277.1) scale(1.13,1)">4</text>
<text transform="translate(23.9,410.4) scale(1.13,1)">6</text>
<text transform="translate(103.5,456.8) scale(1.17,1)">0</text>
<text transform="translate(219.1,456.8) scale(1.17,1)">0.5</text>
<text transform="translate(334.8,456.8) scale(1.17,1)">1</text>
</g>
<text transform="translate(128.6,473.2) scale(1.24,1)" font-family="Liberation Serif, serif" font-size="14.4" fill="#1a1a1a" stroke="#1a1a1a" stroke-width="0.08" textLength="104.2" lengthAdjust="spacing">rotational phase</text>
<text transform="translate(10.6,299.2) rotate(-90)" font-family="Liberation Serif, serif" font-size="16" fill="#1a1a1a" stroke="#1a1a1a" stroke-width="0.22" textLength="148.2" lengthAdjust="spacing">Reduced Magnitude</text>
</svg></body></html>
